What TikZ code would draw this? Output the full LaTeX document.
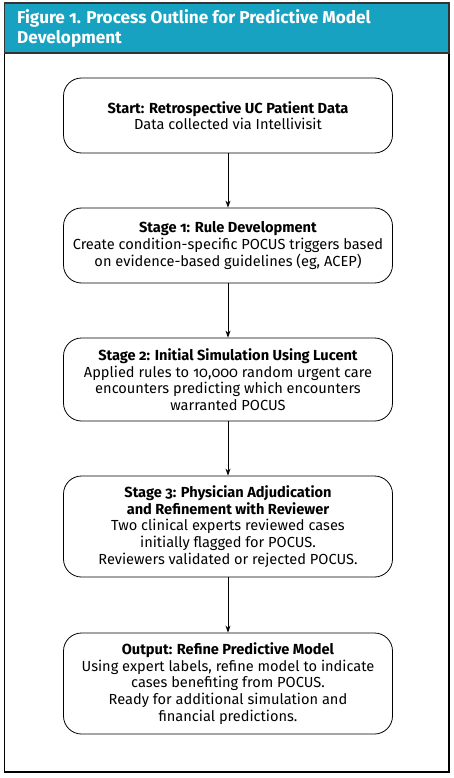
\documentclass[tikz,border=0pt]{standalone}
\usepackage{fontspec}
\setmainfont{Fira Sans}[Numbers=OldStyle]
\usetikzlibrary{arrows.meta}
\definecolor{headteal}{RGB}{22,162,192}
\begin{document}
\begin{tikzpicture}[x=1pt,y=-1pt,
  stagebox/.style={draw=black,line width=0.8pt,rounded corners=18pt,minimum width=329pt,align=center,inner sep=0pt,font=\fontsize{14.6}{16.6}\selectfont},
  flow/.style={-{Stealth[length=7pt,width=5pt]},line width=0.8pt}]
\useasboundingbox (0,0) rectangle (453,778);
\fill[white] (0,0) rectangle (453,778);
\fill[headteal] (4.5,3) rectangle (449,53);
\draw[line width=1.5pt] (4.5,53) -- (4.5,772) -- (449,772) -- (449,53);
\draw[line width=1.5pt,black!80] (4.5,3) rectangle (449,53);
\node[anchor=north west,text=white,font=\fontsize{17.2}{20}\selectfont\bfseries,align=left,inner sep=0pt] (title) at (17,9) {Figure 1. Process Outline for Predictive Model\\Development};
\node[stagebox,minimum height=75pt] (b1) at (228,115.5) {\textbf{Start: Retrospective UC Patient Data}\\Data collected via Intellivisit};
\node[stagebox,minimum height=75pt] (b2) at (228,245.5) {\textbf{Stage 1: Rule Development}\\Create condition-specific POCUS triggers based\\on evidence-based guidelines (eg, ACEP)};
\node[stagebox,minimum height=83pt] (b3) at (228,379.5) {\textbf{Stage 2: Initial Simulation Using Lucent}\\Applied rules to 10,000 random urgent care\\encounters predicting which encounters\\warranted POCUS};
\node[stagebox,minimum height=101pt] (b4) at (228,526.5) {\textbf{Stage 3: Physician Adjudication}\\\textbf{and Refinement with Reviewer}\\Two clinical experts reviewed cases\\initially flagged for POCUS.\\Reviewers validated or rejected POCUS.};
\node[stagebox,minimum height=101pt] (b5) at (228,683.5) {\textbf{Output: Refine Predictive Model}\\Using expert labels, refine model to indicate\\cases benefiting from POCUS.\\Ready for additional simulation and\\financial predictions.};
\draw[flow] (b1) -- (b2);
\draw[flow] (b2) -- (b3);
\draw[flow] (b3) -- (b4);
\draw[flow] (b4) -- (b5);
\end{tikzpicture}
\end{document}
